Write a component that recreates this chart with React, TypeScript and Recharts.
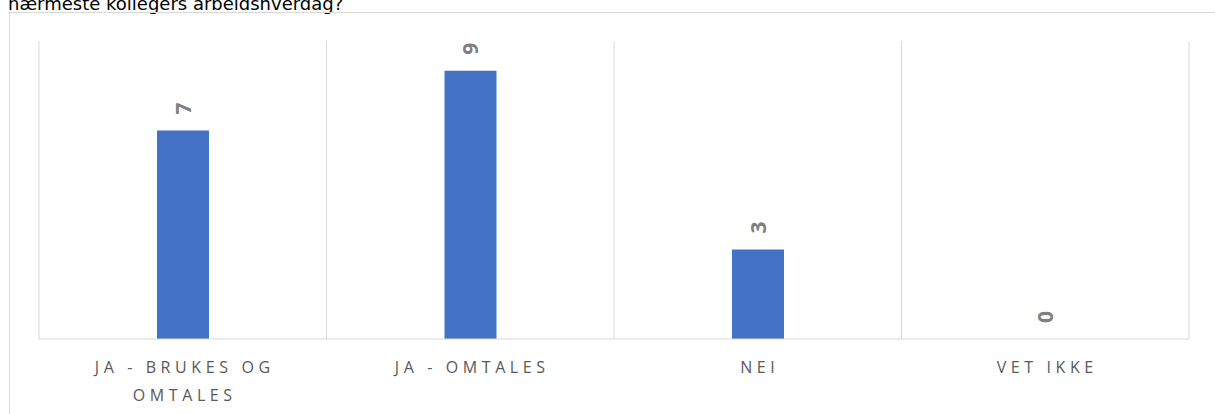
import { ComposedChart, Bar, Line, XAxis, YAxis, CartesianGrid, LabelList } from 'recharts';

const categories = ['JA - BRUKES OG OMTALES', 'JA - OMTALES', 'NEI', 'VET IKKE'];
const tickLines = [['JA - BRUKES OG', 'OMTALES'], ['JA - OMTALES'], ['NEI'], ['VET IKKE']];
const counts = [7, 9, 3, 0];
const title = 'nærmeste kollegers arbeidshverdag?';

const data = categories.map((name, i) => ({ name, Antall: counts[i] }));

const CategoryTick = (props: any) => {
	const { x, y, index } = props;
	const lines = tickLines[index] || [];
	return (
		<g>
			{lines.map((line, i) => (
				<text
					key={i}
					x={x + 2}
					y={y + 26 + i * 28}
					textAnchor='middle'
					fill='#595959'
					fontSize={16}
					letterSpacing={4.6}
					fontFamily='"Open Sans", sans-serif'
				>
					{line}
				</text>
			))}
		</g>
	);
};

// labels hang off an invisible line so the zero value gets one too
const ValueLabel = (props: any) => {
	const { x, y, value } = props;
	const cy = y - 22;
	return (
		<text
			x={x}
			y={cy}
			transform={`rotate(-90, ${x}, ${cy})`}
			textAnchor='middle'
			dominantBaseline='central'
			fill='#7f7f7f'
			fontSize={21}
			fontWeight='bold'
			fontFamily='"Open Sans", sans-serif'
		>
			{value}
		</text>
	);
};

const App = () => {
	return (
		<div style={{ position: 'absolute', left: 0, top: 0, width: 1215, height: 414, overflow: 'hidden', background: '#fff' }}>
			<div
				style={{
					position: 'absolute',
					left: 8,
					top: -6,
					fontFamily: '"DejaVu Sans", sans-serif',
					fontSize: 18,
					lineHeight: '20px',
					color: '#000',
					whiteSpace: 'nowrap'
				}}
			>
				{title}
			</div>
			<div
				style={{
					position: 'absolute',
					left: 9,
					top: 12,
					width: 1300,
					height: 500,
					border: '1px solid #d9d9d9'
				}}
			/>
			<div style={{ position: 'absolute', left: 0, top: 0 }}>
				<ComposedChart
					width={1215}
					height={414}
					data={data}
					margin={{ top: 41, right: 26, left: 39, bottom: 0 }}
				>
					<CartesianGrid
						horizontal={false}
						stroke='#d9d9d9'
						verticalCoordinatesGenerator={({ offset }: any) =>
							Array.from({ length: categories.length + 1 }, (_, i) =>
								offset.left + (i * offset.width) / categories.length
							)
						}
					/>
					<XAxis
						dataKey='name'
						height={75}
						axisLine={{ stroke: '#d9d9d9' }}
						tickLine={false}
						interval={0}
						tick={<CategoryTick />}
					/>
					<YAxis hide domain={[0, 10]} />
					<Bar dataKey='Antall' fill='#4472c4' barSize={52} isAnimationActive={false} />
					<Line
						dataKey='Antall'
						stroke='none'
						dot={false}
						activeDot={false}
						legendType='none'
						isAnimationActive={false}
					>
						<LabelList dataKey='Antall' content={<ValueLabel />} />
					</Line>
				</ComposedChart>
			</div>
		</div>
	);
};

export default App;
